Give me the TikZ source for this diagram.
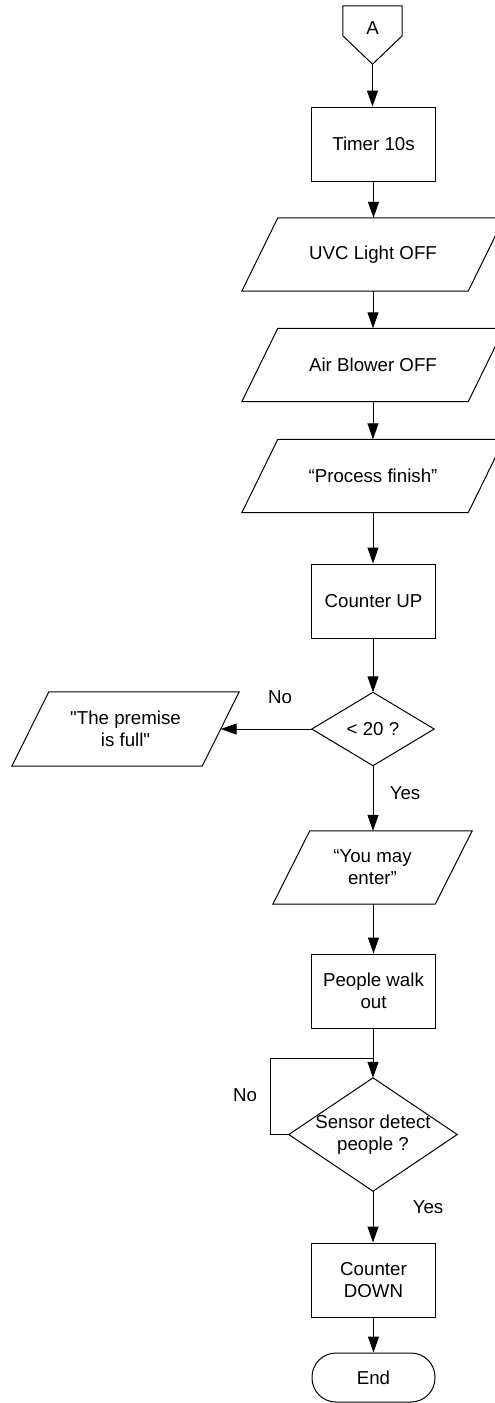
\documentclass[tikz,border=0pt]{standalone}
\usepackage{fontspec}
\setmainfont{Liberation Sans}
\usetikzlibrary{arrows.meta,calc}
\newcommand{\iopara}[2]{\draw[ln] ([xshift=#2]#1.north west) -- (#1.north east) -- ([xshift=-#2]#1.south east) -- (#1.south west) -- cycle;}
\newcommand{\diampath}[1]{\draw[ln] (#1.north) -- (#1.east) -- (#1.south) -- (#1.west) -- cycle;}
\begin{document}
\begin{tikzpicture}[x=1pt,y=-1pt,
  every node/.style={font=\fontsize{18.7}{22}\selectfont, align=center, inner sep=0pt, text=black},
  shapebox/.style={draw=none, minimum height=73pt},
  procbox/.style={draw, line width=1pt, minimum width=124pt, minimum height=74pt},
  ln/.style={line width=1pt, line join=miter},
  arr/.style={-{Triangle[length=16pt,width=11pt]}, line width=1pt}]
\useasboundingbox (0,0) rectangle (495,1403);
\clip (0,0) rectangle (495,1403);

% connector A
\node[shapebox, minimum width=59pt, minimum height=58pt] (conA) at (372.5,35) {};
\draw[ln] (conA.north west) -- (conA.north east) -- ($(conA.north east)+(0,30)$) -- (conA.south) -- ($(conA.north west)+(0,30)$) -- cycle;
\node (conAtxt) at (372.5,28) {A};

\node[procbox] (timer) at (373.5,144) {Timer 10s};

\node[shapebox, minimum width=262pt] (uvc) at (373,254.5) {UVC Light OFF};
\iopara{uvc}{36pt}
\node[shapebox, minimum width=262pt] (air) at (373,365) {Air Blower OFF};
\iopara{air}{36pt}
\node[shapebox, minimum width=262pt] (proc) at (373,476) {“Process finish”};
\iopara{proc}{36pt}

\node[procbox] (cup) at (373.5,601) {Counter UP};

\node[shapebox, minimum width=122pt] (dec) at (373,729) {{<} 20 ?};
\diampath{dec}

\node[shapebox, minimum width=227pt, minimum height=74pt] (prem) at (125.5,729) {\textquotedbl The premise\\is full\textquotedbl};
\iopara{prem}{37pt}

\node[shapebox, minimum width=199pt] (enter) at (372.5,867.5) {“You may\\enter”};
\iopara{enter}{37pt}

\node[procbox] (walk) at (373.5,991) {People walk\\out};

\node[shapebox, minimum width=168pt, minimum height=113pt] (sensor) at (373,1134.5) {Sensor detect\\people ?};
\diampath{sensor}

\node[procbox] (cdown) at (373.5,1280) {Counter\\DOWN};

\node[draw, line width=1pt, rounded corners=24pt, minimum width=123pt, minimum height=49pt] (endn) at (373.5,1377.5) {End};

% labels
\node (no1) at (280,697) {No};
\node (yes1) at (405,793) {Yes};
\node (no2) at (245,1095) {No};
\node (yes2) at (428,1207) {Yes};

% connectors
\draw[arr] (conA.south) -- (conA.south |- timer.north);
\draw[arr] (timer.south) -- (timer.south |- uvc.north);
\draw[arr] (uvc.south) -- (air.north);
\draw[arr] (air.south) -- (proc.north);
\draw[arr] (proc.south) -- (proc.south |- cup.north);
\draw[arr] (cup.south -| dec.north) -- (dec.north);
\draw[arr] (dec.west) -- ([xshift=-18.5pt]prem.east);
\draw[arr] (dec.south) -- (dec.south |- enter.north);
\draw[arr] (enter.south -| walk.south) -- (walk.north);
\coordinate (loopj) at ($(walk.south)!0.6!(walk.south |- sensor.north)$);
\draw[arr] (walk.south -| sensor.north) -- (sensor.north);
\draw[ln] (sensor.west) -- ++(-18,0) |- (loopj -| sensor.north);
\draw[arr] (sensor.south) -- (sensor.south |- cdown.north);
\draw[arr] (cdown.south) -- (endn.north);
\end{tikzpicture}
\end{document}
